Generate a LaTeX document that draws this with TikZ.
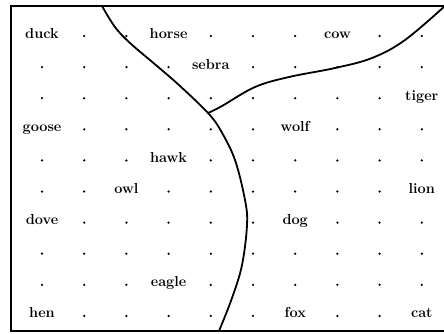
\documentclass[tikz,border=0pt]{standalone}
\usepackage{tikz}

\def\dotmark{.}

\begin{document}
\begin{tikzpicture}[
    x=1pt, y=-1pt,
    every node/.style={inner sep=0pt, font=\fontsize{14.5}{16}\selectfont\bfseries},
    gridpt/.style={circle, fill, minimum size=2.5pt},
    animal/.style={anchor=base},
    frame/.style={line width=1.4pt},
    boundary/.style={line width=1.8pt, line join=round}
  ]
    \useasboundingbox (0,0) rectangle (444,333);
    % frame (right side cut off)
    \draw[frame] (446,6) -- (11,6) -- (11,331) -- (446,331);
    % grid of animals and dots
    \foreach \rowlist [count=\r from 0] in {
        {duck,.,.,horse,.,.,.,cow,.,.},
        {.,.,.,.,sebra,.,.,.,.,.},
        {.,.,.,.,.,.,.,.,.,tiger},
        {goose,.,.,.,.,.,wolf,.,.,.},
        {.,.,.,hawk,.,.,.,.,.,.},
        {.,.,owl,.,.,.,.,.,.,lion},
        {dove,.,.,.,.,.,dog,.,.,.},
        {.,.,.,.,.,.,.,.,.,.},
        {.,.,.,eagle,.,.,.,.,.,.},
        {hen,.,.,.,.,.,fox,.,.,cat}}{
      \foreach \entry [count=\c from 0] in \rowlist {
        \edef\tmpentry{\entry}
        \ifx\tmpentry\dotmark
          \node[gridpt] (p-\r-\c) at (42+42.2*\c, 36+31.1*\r) {};
        \else
          \node[animal] (p-\r-\c) at (42+42.2*\c, 38+31.1*\r) {\entry};
        \fi
      }
    }
    % the two boundary curves
    \coordinate (fork) at (208,113);
    \draw[boundary] plot[smooth, tension=0.6] coordinates {
      (102,6) (115,27) (130,43) (157,66) (180,86) (fork) (221,131)
      (235,160) (245,200) (247,225) (242,265) (232,298) (219,331)};
    \draw[boundary] plot[smooth, tension=0.6] coordinates {
      (fork) (222,106) (255,87) (289,77) (335,68) (372,58) (405,40) (446,5)};
\end{tikzpicture}
\end{document}
